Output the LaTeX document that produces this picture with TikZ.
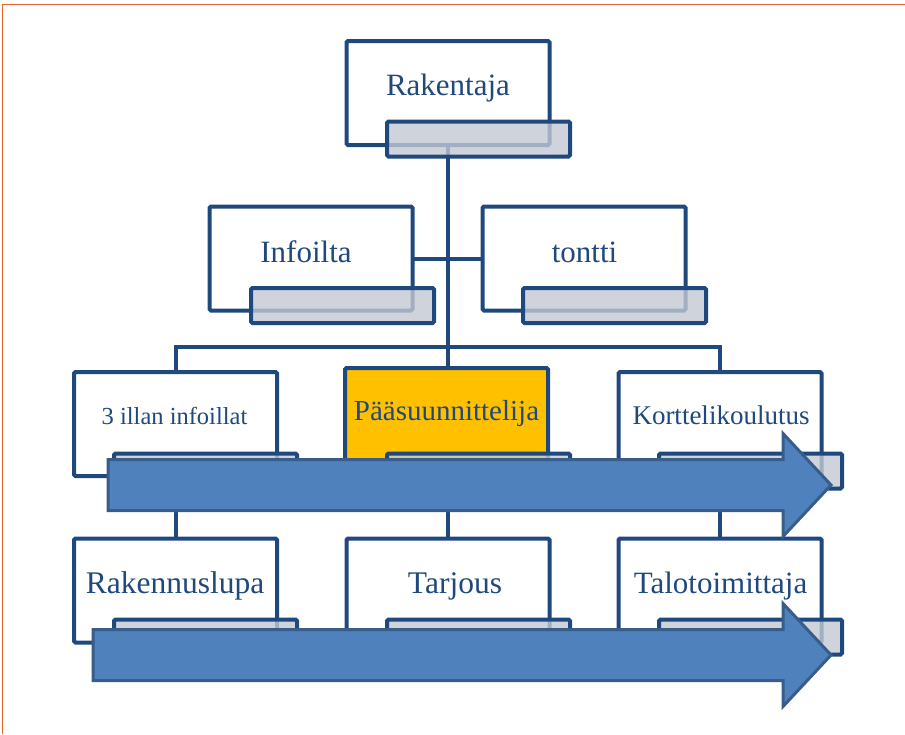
\documentclass[tikz,border=0pt]{standalone}
\usepackage{fontspec}
\setmainfont{Liberation Serif}
\usetikzlibrary{backgrounds}
\definecolor{navy}{HTML}{1F497D}
\definecolor{tabgrey}{RGB}{195,200,210}
\definecolor{arrowfill}{HTML}{4F81BD}
\definecolor{arrowline}{HTML}{385D8A}
\definecolor{gold}{HTML}{FFC000}
\definecolor{frameorange}{HTML}{E9632B}
\begin{document}
\begin{tikzpicture}[x=1pt,y=-1pt,
  orgbox/.style={draw=navy, line width=4pt, fill=white, rounded corners=1.5pt,
    minimum width=203pt, minimum height=104pt, inner sep=0pt, outer sep=0pt},
  tabbox/.style={draw=navy, line width=4pt, fill=tabgrey, fill opacity=0.8,
    rounded corners=1.5pt, minimum width=183pt, minimum height=35pt,
    inner sep=0pt, outer sep=0pt},
  boxtext/.style={anchor=base, text=navy, inner sep=0pt},
  link/.style={draw=navy, line width=4pt},
  flow/.style={draw=arrowline, fill=arrowfill, line width=3pt, line join=miter}]
\useasboundingbox (0,0) rectangle (905,734);

% page frame
\draw[frameorange, line width=1.5pt] (2.5,734) -- (2.5,4.5) -- (905,4.5);

% boxes
\node[orgbox] (rak) at (448,93) {};
\node[orgbox] (inf) at (311,258.5) {};
\node[orgbox] (ton) at (584,258.5) {};
\node[orgbox] (ill) at (175.5,424) {};
\node[orgbox, fill=gold] (pas) at (446.5,420) {};
\node[orgbox] (kor) at (720,424) {};
\node[orgbox] (lup) at (175.5,590.5) {};
\node[orgbox] (tar) at (448,590.5) {};
\node[orgbox] (tal) at (720,590.5) {};

% labels
\node[boxtext, font=\fontsize{31}{36}\selectfont] (trak) at (448,95) {Rakentaja};
\node[boxtext, font=\fontsize{31}{36}\selectfont] (tinf) at (306,262) {Infoilta};
\node[boxtext, font=\fontsize{31}{36}\selectfont] (tton) at (584.5,262) {tontti};
\node[boxtext, font=\fontsize{24.5}{30}\selectfont] (till) at (174.5,424) {3 illan infoillat};
\node[boxtext, font=\fontsize{29}{34}\selectfont] (tpas) at (446.5,420) {Pääsuunnittelija};
\node[boxtext, font=\fontsize{27}{32}\selectfont] (tkor) at (721,424) {Korttelikoulutus};
\node[boxtext, font=\fontsize{31.5}{36}\selectfont] (tlup) at (175,593) {Rakennuslupa};
\node[boxtext, font=\fontsize{31.5}{36}\selectfont] (ttar) at (455,593) {Tarjous};
\node[boxtext, font=\fontsize{31}{36}\selectfont] (ttal) at (720.5,593) {Talotoimittaja};

% connectors behind the boxes
\coordinate (bar) at (448,347);
\begin{pgfonlayer}{background}
  \draw[link] (rak.center) -- (rak.center |- pas.north);
  \draw[link] (inf.center) -- (ton.center);
  \draw[link] (ill.center) |- (bar) -| (kor.center);
  \draw[link] (ill.center) -- (lup.center);
  \draw[link] (tar.center |- pas.center) -- (tar.center);
  \draw[link] (kor.center) -- (tal.center);
\end{pgfonlayer}

% grey tabs over the lower edges
\node[tabbox] (grak) at (478.5,139) {};
\node[tabbox] (ginf) at (342.5,305.5) {};
\node[tabbox] (gton) at (614.5,305.5) {};
\node[tabbox] (gill) at (205.5,471) {};
\node[tabbox] (gpas) at (478.5,471) {};
\node[tabbox] (gkor) at (750.5,471) {};
\node[tabbox] (glup) at (205.5,637) {};
\node[tabbox] (gtar) at (478.5,637) {};
\node[tabbox] (gtal) at (750.5,637) {};

% process arrows
\draw[flow] (108,459.5) -- (783,459.5) -- (783,433.5) -- (831,485) -- (783,536.5)
  -- (783,510.5) -- (108,510.5) -- cycle;
\draw[flow] (93,629.5) -- (783,629.5) -- (783,603.5) -- (831,655) -- (783,706.5)
  -- (783,680.5) -- (93,680.5) -- cycle;
\end{tikzpicture}
\end{document}
